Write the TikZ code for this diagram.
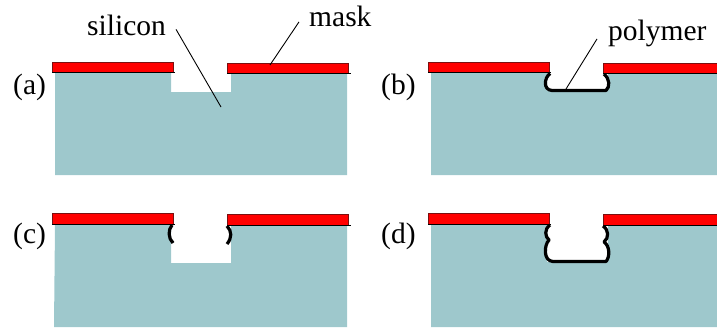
\documentclass[tikz,border=0pt]{standalone}
\usepackage{fontspec}
\setmainfont{Liberation Serif}
\usepackage{xcolor}
\definecolor{siliconTeal}{HTML}{9EC8CC}
\definecolor{maskRed}{HTML}{FF0000}
\definecolor{maskEdge}{HTML}{7A1010}
\usetikzlibrary{calc}
\begin{document}
\begin{tikzpicture}[
        x=1pt,
        y=-1pt,
        siliconBody/.style={
            fill=siliconTeal,
            draw=none
        },
        maskLayer/.style={
            fill=maskRed,
            draw=maskEdge,
            line width=0.8pt
        },
        maskBase/.style={
            black,
            line width=1pt
        },
        polymerLine/.style={
            black,
            line width=3.2pt,
            line join=round
        },
        leaderLine/.style={
            black,
            line width=0.9pt
        },
        diagramLabel/.style={
            anchor=base west,
            inner sep=0pt,
            font=\fontsize{29.5}{31}\selectfont
        }
    ]
    \useasboundingbox (0,0) rectangle (717,329);

    % Silicon
    \path[siliconBody] (55,72) -- (171,72) -- (171,92) -- (231,92) -- (231,73) -- (347,73) -- (347,175) -- (55,175) -- cycle;
    \path[siliconBody] (431,72) -- (547,72) -- (547,91) -- (608,91) -- (608,73) -- (717,73) -- (717,175) -- (431,175) -- cycle;
    \path[siliconBody] (55,225) -- (171,225) -- (171,263) -- (231,263) -- (231,225) -- (347,225) -- (347,327) -- (54,327) -- cycle;
    \path[siliconBody] (431,224) -- (547,224) -- (547,262) -- (608,262) -- (608,225) -- (717,225) -- (717,327) -- (431,327) -- cycle;

    % Masks
    \draw[maskLayer] (52.5,62) rectangle (173,72);
    \draw[maskLayer] (227,63) rectangle (348,73);
    \draw[maskLayer] (428,62) rectangle (549,72);
    \draw[maskLayer] (603,63) rectangle (718,73);
    \draw[maskLayer] (52.5,213) rectangle (173,224);
    \draw[maskLayer] (227,214) rectangle (348,225);
    \draw[maskLayer] (428,213) rectangle (549,224);
    \draw[maskLayer] (603,214) rectangle (718,225);
    \draw[maskBase] (52,72.5) -- (175,72.5);
    \draw[maskBase] (227,73.5) -- (351,73.5);
    \draw[maskBase] (428,72.5) -- (551,72.5);
    \draw[maskBase] (603,73.5) -- (717,73.5);
    \draw[maskBase] (52,224) -- (175,224);
    \draw[maskBase] (227,225) -- (351,225);
    \draw[maskBase] (428,224) -- (551,224);
    \draw[maskBase] (603,225) -- (717,225);

    % Polymer
    \draw[polymerLine] (550,73.5) .. controls (544,78) and (543,90) .. (552,90.5) -- (606,90.5) .. controls (610,87) and (610,79) .. (604,74);
    \draw[polymerLine] (172,225) .. controls (168,230) and (168,238) .. (173,243);
    \draw[polymerLine] (227,226) .. controls (232,231) and (232,238) .. (227,244);
    \draw[polymerLine] (550,225) .. controls (544,229) and (545,237) .. (549,240) .. controls (544,245) and (543,261) .. (553,261.5) -- (606,261.5) .. controls (610,257) and (610,246) .. (604,242) .. controls (609,238) and (609,230) .. (603,226);

    % Labels
    \node[diagramLabel] (silicon) at (87,36) {silicon};
    \node[diagramLabel] (mask) at (309,27) {mask};
    \node[diagramLabel] (polymer) at (608,41) {polymer};
    \node[diagramLabel] (panelA) at (13,94) {(a)};
    \node[diagramLabel] (panelB) at (381,94) {(b)};
    \node[diagramLabel] (panelC) at (13,243) {(c)};
    \node[diagramLabel] (panelD) at (381,243) {(d)};

    % Leaders
    \coordinate (siliconEnd) at (221,107);
    \coordinate (maskEnd) at (270,65);
    \coordinate (polymerEnd) at (566,89);
    \draw[leaderLine] ($(silicon.east)+(10,3.5)$) -- (siliconEnd);
    \draw[leaderLine] ($(mask.west)+(-10,5)$) -- (maskEnd);
    \draw[leaderLine] ($(polymer.west)+(-11,5)$) -- (polymerEnd);
    \end{tikzpicture}
\end{document}
